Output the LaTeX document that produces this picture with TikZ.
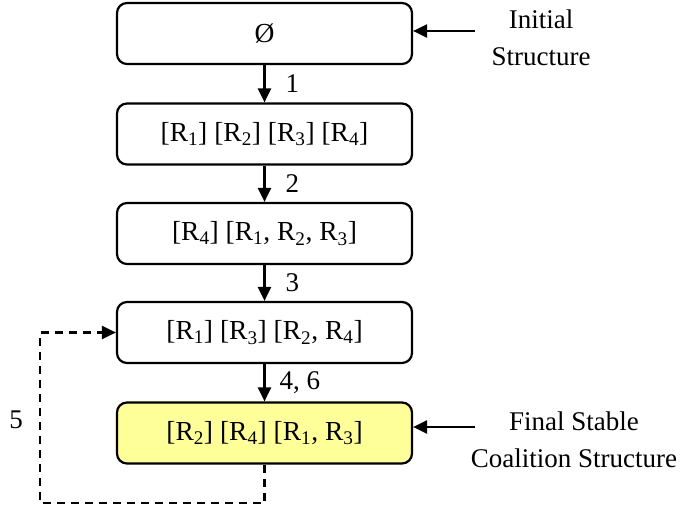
\documentclass[tikz,border=0pt]{standalone}
\usepackage{fontspec}
\setmainfont{Liberation Serif}
\usetikzlibrary{arrows.meta}
\begin{document}
\begin{tikzpicture}[x=1pt,y=-1pt,
  stbox/.style={draw,line width=2.2pt,rounded corners=10pt,minimum width=295pt,minimum height=61pt,inner sep=0pt,font=\fontsize{27.5}{32}\selectfont},
  lbl/.style={font=\fontsize{27}{32}\selectfont,inner sep=0pt},
  arr/.style={line width=2.2pt,-{Triangle[length=14pt,width=13pt]}}]
\useasboundingbox (0,0) rectangle (687,513);
\node[stbox] (b1) at (264.5,33.5) {Ø};
\node[stbox] (b2) at (264.5,134) {[R\textsubscript{1}] [R\textsubscript{2}] [R\textsubscript{3}] [R\textsubscript{4}]};
\node[stbox] (b3) at (264.5,233.5) {[R\textsubscript{4}] [R\textsubscript{1}, R\textsubscript{2}, R\textsubscript{3}]};
\node[stbox] (b4) at (264.5,332.5) {[R\textsubscript{1}] [R\textsubscript{3}] [R\textsubscript{2}, R\textsubscript{4}]};
\node[stbox,fill={rgb,255:red,255;green,255;blue,153}] (b5) at (264.5,433) {[R\textsubscript{2}] [R\textsubscript{4}] [R\textsubscript{1}, R\textsubscript{3}]};
\draw[arr] (b1) -- (b2) node[lbl,pos=0.5,right=20pt] {1};
\draw[arr] (b2) -- (b3) node[lbl,pos=0.5,right=20pt] {2};
\draw[arr] (b3) -- (b4) node[lbl,pos=0.5,right=20pt] {3};
\draw[arr] (b4) -- (b5) node[lbl,pos=0.5,right=14pt] {4, 6};
\node[lbl] (t1) at (541,19) {Initial};
\node[lbl] (t2) at (541,57) {Structure};
\node[lbl] (t3) at (574,421) {Final Stable};
\node[lbl] (t4) at (574,458) {Coalition Structure};
\coordinate (a1) at (475,31);
\coordinate (a2) at (475,427);
\draw[arr] (a1) -- (a1 -| b1.east);
\draw[arr] (a2) -- (a2 -| b5.east);
\coordinate (c1) at (40,503);
\draw[arr,dashed,dash pattern=on 8pt off 6pt] (b5.south) |- (c1) |- (b4.west);
\node[lbl] (t5) at (16,420) {5};
\end{tikzpicture}
\end{document}
